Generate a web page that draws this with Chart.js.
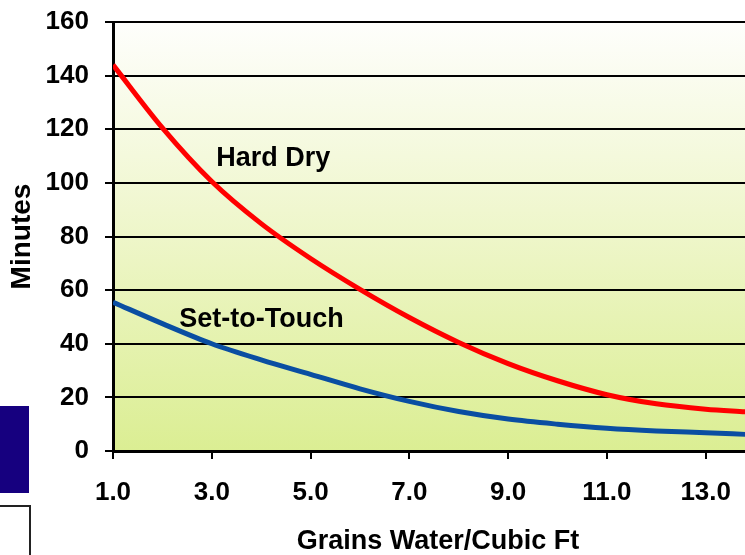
<!DOCTYPE html>
<html>
<head>
<meta charset="utf-8">
<script src="https://cdn.jsdelivr.net/npm/chart.js@4.4.1/dist/chart.umd.min.js"></script>
<style>
  html, body { margin: 0; padding: 0; background: #fff; overflow: hidden; }
  #wrap { position: relative; width: 745px; height: 555px; overflow: hidden; }
  #wrap canvas { position: absolute; left: 0; top: 0; }
  .blue-box { position: absolute; left: 0; top: 406px; width: 29px; height: 87px; background: #16007f; }
  .frame-box { position: absolute; left: -3px; top: 505px; width: 30px; height: 60px; border: 2px solid #222; }
</style>
</head>
<body>
<div id="wrap">
  <canvas id="chart" width="765" height="555"></canvas>
  <div class="blue-box"></div>
  <div class="frame-box"></div>
</div>
<script>
// grains water per cubic ft
const grains = [1, 2, 3, 4, 5, 6, 7, 8, 9, 10, 11, 12, 13, 13.8];
// minutes
const hardDry = [144, 120.5, 100.5, 84.8, 71.8, 60.3, 49.8, 40.5, 32.6, 26.2, 21, 17.6, 15.6, 14.6];
const setToTouch = [55.5, 47.5, 40, 34, 28.6, 23.2, 18.5, 14.7, 11.9, 10, 8.5, 7.5, 6.8, 6.2];
const seriesNames = ["Hard Dry", "Set-to-Touch"];
const xTicks = [1, 3, 5, 7, 9, 11, 13];

const FONT = '"Liberation Sans", Arial, sans-serif';

const toPoints = (vals) => vals.map((v, i) => ({x: grains[i], y: v}));

const plotBackground = {
    id: "plotBackground",
    beforeDraw(chart) {
        const {ctx, chartArea: a} = chart;
        const g = ctx.createLinearGradient(0, a.top, 0, a.bottom);
        g.addColorStop(0, "#fefefc");
        g.addColorStop(0.5, "#eef6c9");
        g.addColorStop(1, "#dbee93");
        ctx.save();
        ctx.fillStyle = g;
        ctx.fillRect(a.left, a.top, a.right - a.left, a.bottom - a.top);
        ctx.restore();
    }
};

const curveLabels = {
    id: "curveLabels",
    afterDatasetsDraw(chart) {
        const {ctx, scales: {x, y}} = chart;
        ctx.save();
        ctx.font = "bold 27px " + FONT;
        ctx.fillStyle = "#000";
        ctx.textAlign = "left";
        ctx.textBaseline = "alphabetic";
        ctx.fillText(seriesNames[0], x.getPixelForValue(3.09), y.getPixelForValue(106.3));
        ctx.fillText(seriesNames[1], x.getPixelForValue(2.34), y.getPixelForValue(46.3));
        ctx.restore();
    }
};

new Chart(document.getElementById("chart"), {
    type: "line",
    data: {
        datasets: [
            {
                label: seriesNames[0],
                data: toPoints(hardDry),
                borderColor: "#ff0000",
                borderWidth: 5,
                pointRadius: 0,
                cubicInterpolationMode: "monotone",
                fill: false
            },
            {
                label: seriesNames[1],
                data: toPoints(setToTouch),
                borderColor: "#0a4ea2",
                borderWidth: 5,
                pointRadius: 0,
                cubicInterpolationMode: "monotone",
                fill: false
            }
        ]
    },
    options: {
        responsive: false,
        animation: false,
        layout: {padding: {top: 22, right: 2, left: 0, bottom: 0}},
        plugins: {
            legend: {display: false},
            tooltip: {enabled: false}
        },
        scales: {
            x: {
                type: "linear",
                min: 1,
                max: 14.16,
                afterBuildTicks: (s) => { s.ticks = xTicks.map(v => ({value: v})); },
                afterFit: (s) => { s.height = 104; s.paddingLeft = 0; s.paddingRight = 0; },
                ticks: {
                    callback: (v) => Number(v).toFixed(1),
                    font: {family: FONT, size: 26, weight: "bold"},
                    color: "#000",
                    padding: 18,
                    maxRotation: 0
                },
                grid: {drawOnChartArea: false, color: "#000", lineWidth: 2, tickLength: 8},
                border: {color: "#000", width: 3},
                title: {
                    display: true,
                    text: "Grains Water/Cubic Ft",
                    font: {family: FONT, size: 27, weight: "bold", lineHeight: 1},
                    color: "#000",
                    padding: {top: 0, bottom: 0}
                }
            },
            y: {
                min: 0,
                max: 160,
                afterFit: (s) => { s.width = 113; s.paddingTop = 0; s.paddingBottom = 0; },
                ticks: {
                    stepSize: 20,
                    font: {family: FONT, size: 26, weight: "bold"},
                    color: "#000",
                    padding: 16
                },
                grid: {color: "#000", lineWidth: 2, tickLength: 8},
                border: {color: "#000", width: 3},
                title: {
                    display: true,
                    text: "Minutes",
                    font: {family: FONT, size: 28, weight: "bold", lineHeight: 1},
                    color: "#000",
                    padding: {top: 8, bottom: 0}
                }
            }
        }
    },
    plugins: [plotBackground, curveLabels]
});
</script>
</body>
</html>
